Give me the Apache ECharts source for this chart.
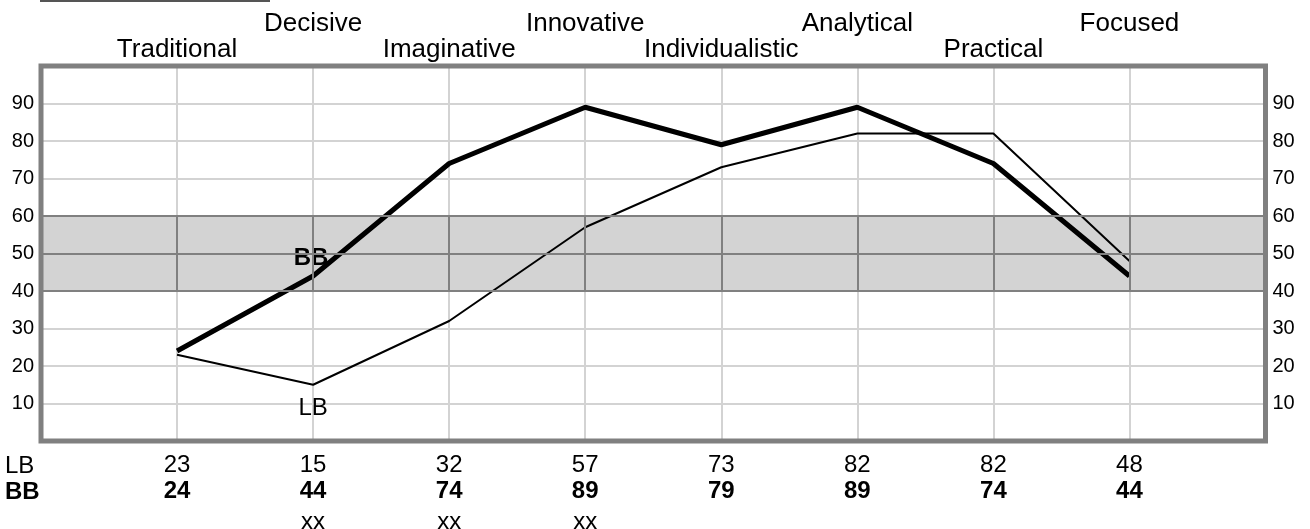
<!DOCTYPE html>
<html>
<head>
<meta charset="utf-8">
<script src="https://cdn.jsdelivr.net/npm/echarts@6/dist/echarts.min.js"></script>
<style>
html,body{margin:0;padding:0;background:#fff;}
#chart{width:1310px;height:529px;}
</style>
</head>
<body>
<div id="chart"></div>
<script>
const categories = ['Traditional','Decisive','Imaginative','Innovative','Individualistic','Analytical','Practical','Focused'];
const lbValues = [23,15,32,57,73,82,82,48];
const bbValues = [24,44,74,89,79,89,74,44];
const notes = ['','xx','xx','xx','','','',''];
const yTickLabels = [10,20,30,40,50,60,70,80,90];
const band = [40,50,60];
const rowNames = ['LB','BB'];

const FONT = '"Liberation Sans", Arial, sans-serif';
const LIGHT = '#d3d3d3';
const DARK = '#808080';
const CLEAR = 'rgba(0,0,0,0)';

function catAt(v, arr){
  const i = Math.round(v) - 1;
  return (i >= 0 && i < arr.length && Math.abs(v - Math.round(v)) < 1e-6) ? String(arr[i]) : '';
}

function xAxisBase(extra){
  return Object.assign({
    type:'value', min:0, max:categories.length+1, interval:1,
    axisLine:{show:false}, axisTick:{show:false}, splitLine:{show:false}
  }, extra);
}

const bandLines = band.map(v => ({yAxis:v}));
const bandVerticals = categories.map((c,i) => [{coord:[i+1, band[0]]},{coord:[i+1, band[band.length-1]]}]);

const chart = echarts.init(document.getElementById('chart'));
chart.setOption({
  animation:false,
  backgroundColor:'#fff',
  textStyle:{fontFamily:FONT},
  grid:{left:41, right:44.5, top:66, bottom:88, show:true, borderColor:DARK, borderWidth:5,
    backgroundColor:'transparent', z:5, containLabel:false, outerBoundsMode:'none'},
  xAxis:[
    xAxisBase({position:'bottom', splitLine:{show:true, showMinLine:false, showMaxLine:false, lineStyle:{color:LIGHT, width:2}},
      axisLabel:{margin:24, verticalAlign:'middle', fontSize:24, color:'#000', fontFamily:FONT,
        formatter:v => catAt(v, lbValues)}}),
    xAxisBase({position:'bottom',
      axisLabel:{margin:50, verticalAlign:'middle', fontSize:24, fontWeight:'bold', color:'#000', fontFamily:FONT,
        formatter:v => catAt(v, bbValues)}}),
    xAxisBase({position:'bottom',
      axisLabel:{margin:81, verticalAlign:'middle', fontSize:24, color:'#000', fontFamily:FONT,
        formatter:v => catAt(v, notes)}}),
    xAxisBase({position:'top',
      axisLabel:{margin:16, verticalAlign:'middle', fontSize:26, color:'#000', fontFamily:FONT,
        formatter:v => { const i = Math.round(v)-1; return (i%2===0) ? catAt(v, categories) : ''; }}}),
    xAxisBase({position:'top',
      axisLabel:{margin:42, verticalAlign:'middle', fontSize:26, color:'#000', fontFamily:FONT,
        formatter:v => { const i = Math.round(v)-1; return (i%2===1) ? catAt(v, categories) : ''; }}})
  ],
  yAxis:[
    {type:'value', position:'left', min:0, max:100, interval:10,
      axisLine:{show:false}, axisTick:{show:false},
      splitLine:{show:true, showMinLine:false, showMaxLine:false, lineStyle:{color:LIGHT, width:2}},
      axisLabel:{margin:7, fontSize:20, color:'#000', fontFamily:FONT,
        formatter:v => yTickLabels.indexOf(v) >= 0 ? String(v) : ''}},
    {type:'value', position:'right', min:0, max:100, interval:10,
      axisLine:{show:false}, axisTick:{show:false}, splitLine:{show:false},
      axisLabel:{margin:7, fontSize:20, color:'#000', fontFamily:FONT,
        formatter:v => yTickLabels.indexOf(v) >= 0 ? String(v) : ''}}
  ],
  graphic:[
    {type:'rect', left:40, top:0, shape:{width:230, height:2}, style:{fill:'#555'}},
    {type:'text', left:5, top:454, style:{text:rowNames[0], font:'24px ' + FONT, fill:'#000'}},
    {type:'text', left:5, top:480, style:{text:rowNames[1], font:'bold 24px ' + FONT, fill:'#000'}}
  ],
  series:[
    {type:'line', name:'band', data:[], z:1, silent:true,
      markArea:{silent:true, itemStyle:{color:LIGHT}, data:[[{yAxis:band[0]},{yAxis:band[band.length-1]}]]},
      markLine:{silent:true, symbol:['none','none'], label:{show:false},
        lineStyle:{color:DARK, width:2, type:'solid'},
        data: bandLines.concat(bandVerticals)}},
    {type:'line', name:'LB', z:3, silent:true,
      symbol:'circle', symbolSize:1, showSymbol:true,
      itemStyle:{color:CLEAR, borderColor:CLEAR},
      lineStyle:{color:'#000', width:2},
      data: lbValues.map((v,i) => i===1 ? {value:[i+1,v], label:{show:true, position:'bottom', distance:11, formatter:'LB', fontSize:24, color:'#000', fontFamily:FONT}} : [i+1,v])},
    {type:'line', name:'BB', z:4, silent:true,
      symbol:'circle', symbolSize:1, showSymbol:true,
      itemStyle:{color:CLEAR, borderColor:CLEAR},
      lineStyle:{color:'#000', width:5},
      data: bbValues.map((v,i) => i===1 ? {value:[i+1,v], label:{show:true, position:'top', distance:5, offset:[-2,0], formatter:'BB', fontSize:24, fontWeight:'bold', color:'#000', fontFamily:FONT}} : [i+1,v])}
  ]
});
</script>
</body>
</html>
